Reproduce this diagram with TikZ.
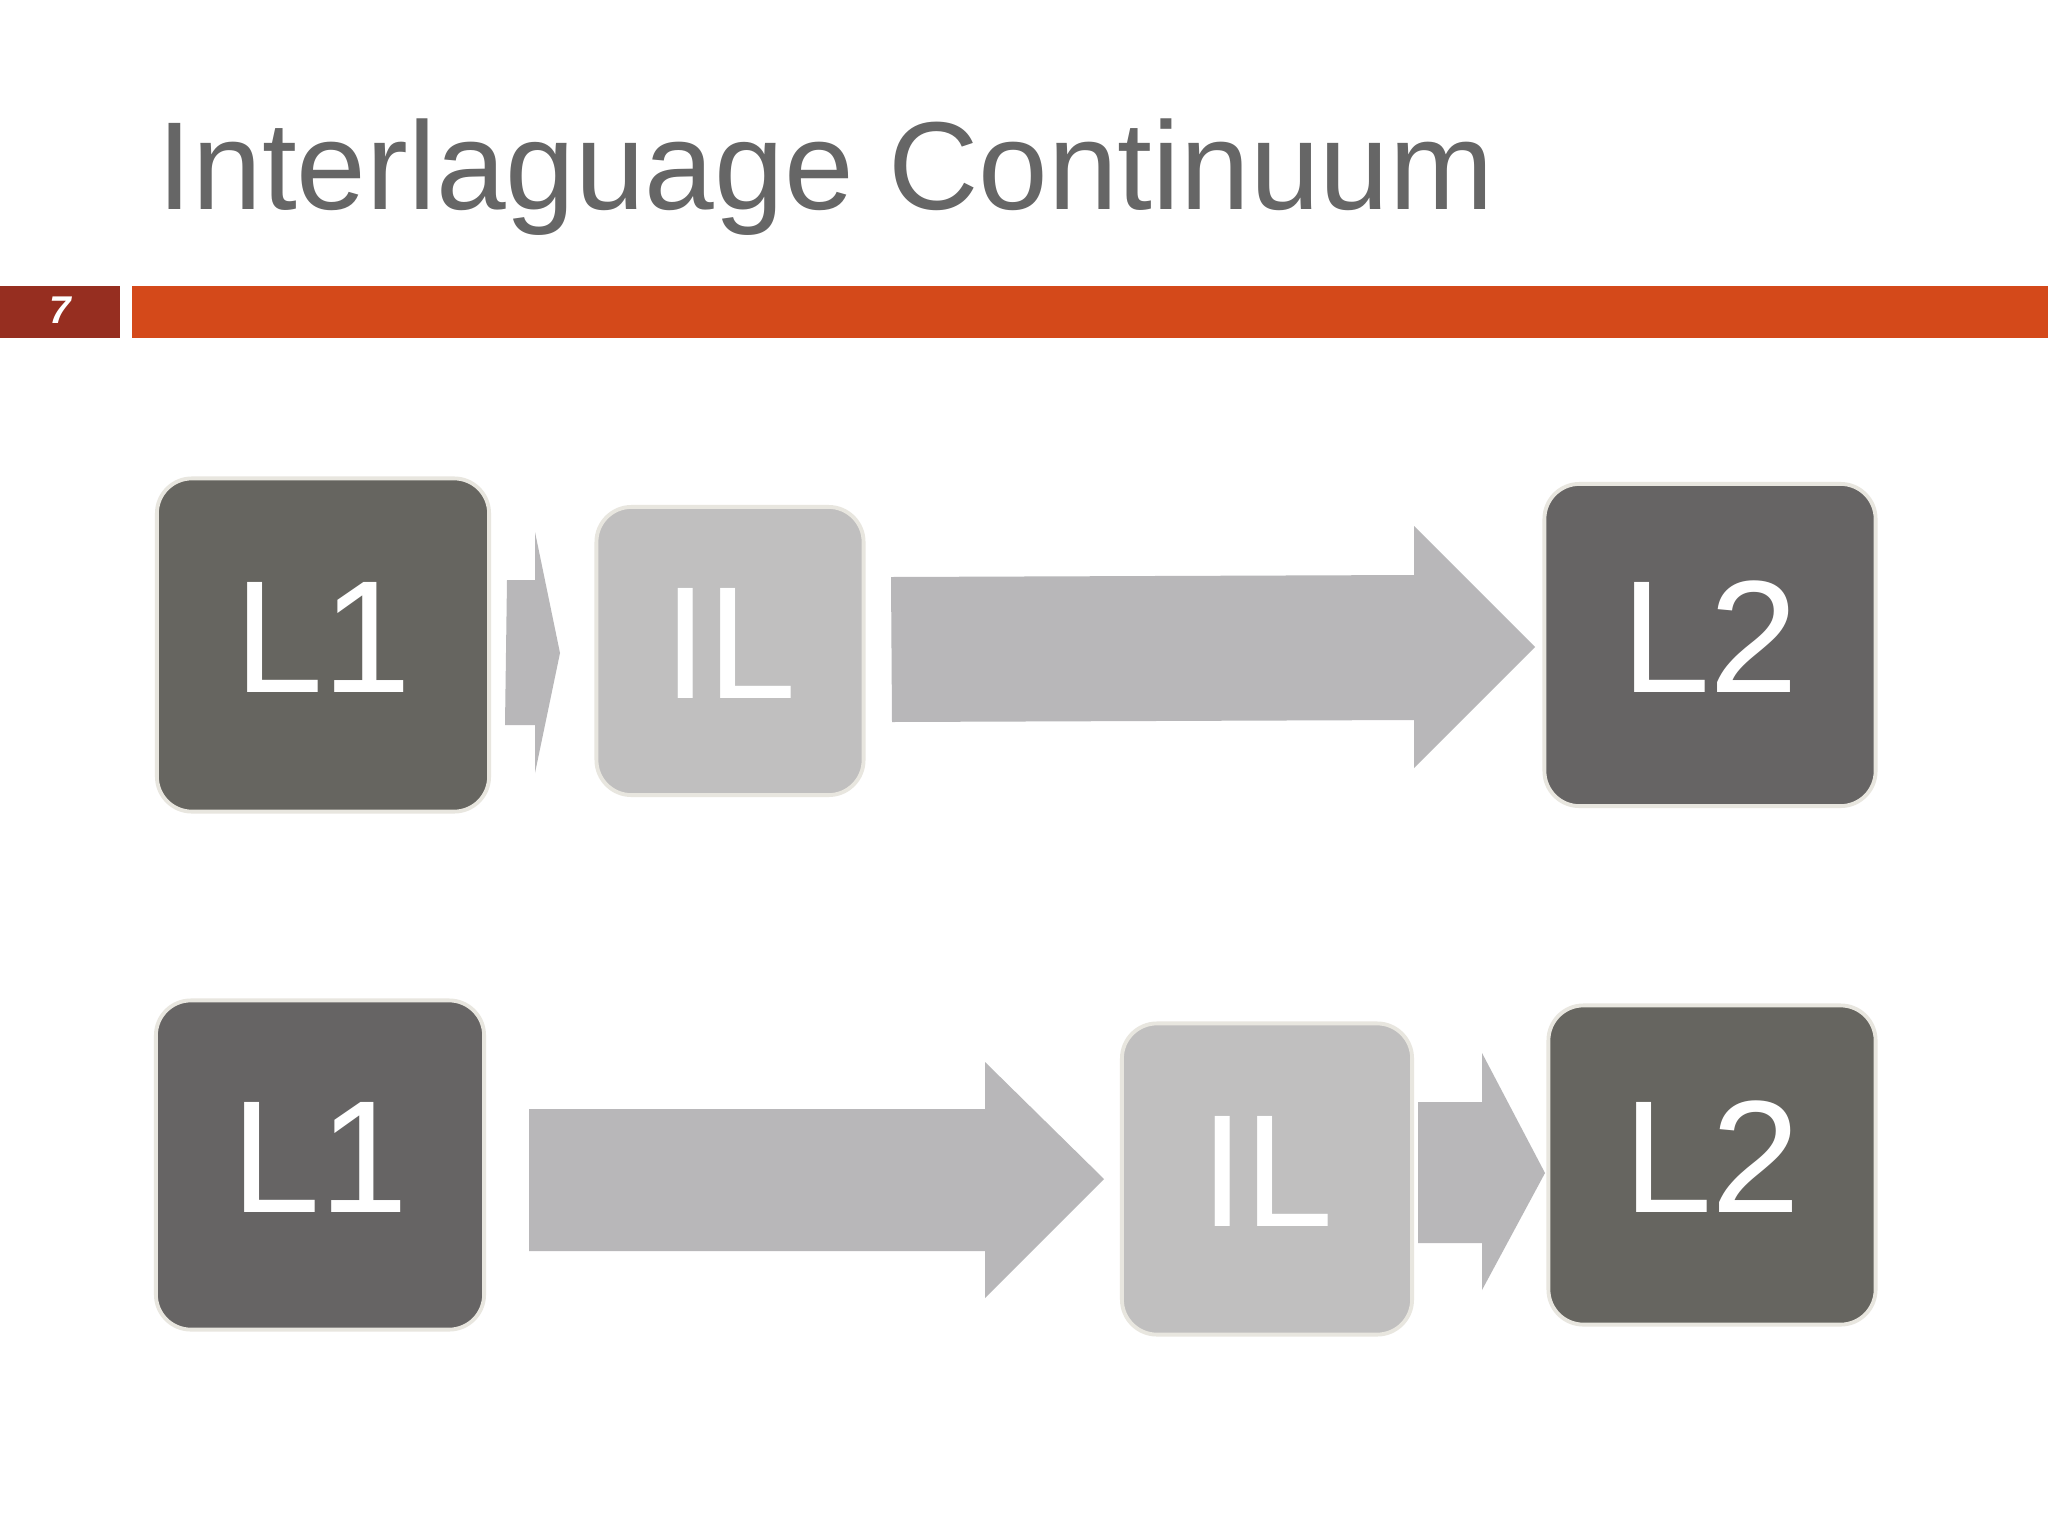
\documentclass[tikz,border=0pt]{standalone}
\usepackage{fontspec}
\setmainfont{Liberation Sans}

\definecolor{titlegray}{RGB}{102,102,102}
\definecolor{warmgray}{RGB}{102,101,96}
\definecolor{coolgray}{RGB}{102,100,100}
\definecolor{ilgray}{RGB}{192,191,191}
\definecolor{arrowgray}{RGB}{184,183,185}
\definecolor{rimgray}{RGB}{232,230,223}
\definecolor{pagered}{RGB}{150,46,32}
\definecolor{barorange}{RGB}{212,73,26}

\tikzset{
  langbox/.style={draw=rimgray, line width=1.1pt, rounded corners=0.35cm,
    inner sep=0pt, text=white, text depth=0.16cm,
    font=\fontsize{45.5}{50}\selectfont},
  darkbox/.style={langbox, fill=warmgray},
  darkboxb/.style={langbox, fill=coolgray},
  ilbox/.style={langbox, fill=ilgray},
  blockarrow/.style={fill=arrowgray}
}

\begin{document}
\begin{tikzpicture}[x=0.01cm,y=-0.01cm]
\useasboundingbox[fill=white] (0,0) rectangle (2048,1536);
% header
\node[anchor=base west, inner sep=0pt, text=titlegray,
  font=\fontsize{35.6}{40}\selectfont] (title) at (157,209) {Interlaguage Continuum};
\fill[pagered] (0,286) rectangle (120,338);
\fill[barorange] (132,286) rectangle (2048,338);
\node[text=white, font=\fontsize{11}{13}\selectfont\bfseries\itshape] (page) at (60,310) {7};
% top row
\node[darkbox, minimum width=3.32cm, minimum height=3.33cm] (L1a) at (323,645) {L1};
\node[ilbox, minimum width=2.67cm, minimum height=2.88cm] (ILa) at (730,651) {IL};
\node[darkboxb, minimum width=3.31cm, minimum height=3.22cm] (L2a) at (1710,645) {L2};
\fill[blockarrow] (507,580) -- (535,580) -- (535,532) -- (560,653) -- (535,773) -- (535,725) -- (505,725) -- cycle;
\fill[blockarrow] (891,577) -- (1414,575) -- (1414,526) -- (1535,647) -- (1414,768) -- (1414,720) -- (892,722) -- cycle;
% bottom row
\node[darkboxb, minimum width=3.28cm, minimum height=3.29cm] (L1b) at (320,1165) {L1};
\node[ilbox, minimum width=2.90cm, minimum height=3.11cm] (ILb) at (1267,1179) {IL};
\node[darkbox, minimum width=3.27cm, minimum height=3.19cm] (L2b) at (1712,1165) {L2};
\fill[blockarrow] (529,1109) -- (985,1109) -- (985,1062) -- (1104,1179) -- (985,1298) -- (985,1251) -- (529,1251) -- cycle;
\fill[blockarrow] (1418,1102) -- (1482,1102) -- (1482,1053) -- (1545,1173) -- (1482,1290) -- (1482,1243) -- (1418,1243) -- cycle;
\end{tikzpicture}
\end{document}
